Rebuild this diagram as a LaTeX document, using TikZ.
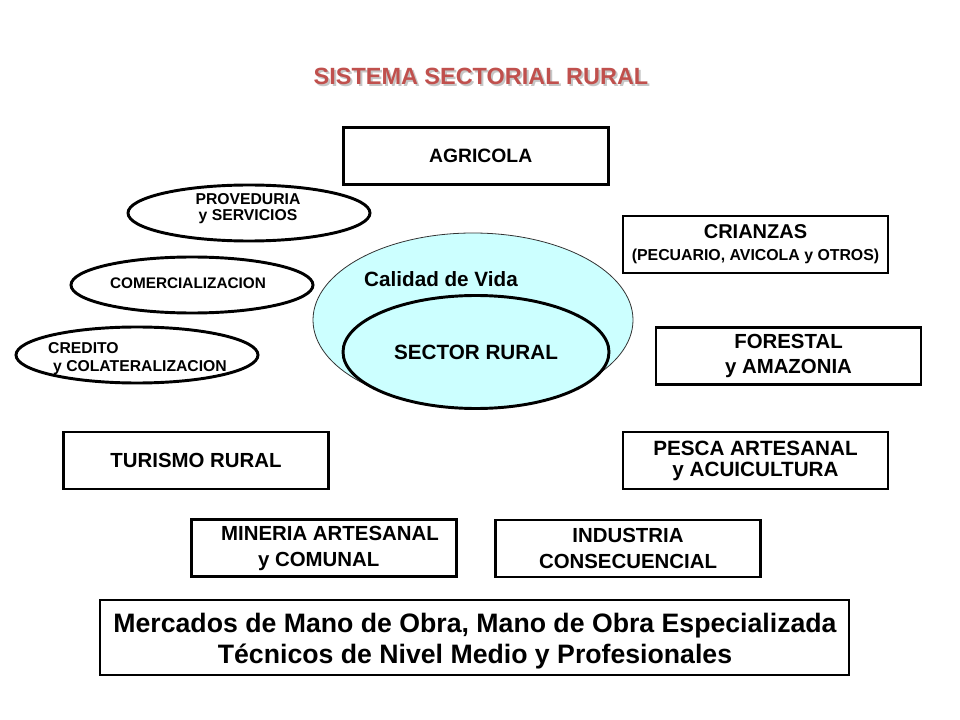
\documentclass[tikz,border=0pt]{standalone}
\usepackage{fontspec}
\setmainfont{Liberation Sans}
\usepackage{tikz}
\usetikzlibrary{shapes.geometric}

\definecolor{titlered}{RGB}{192,80,77}
\definecolor{lifecyan}{RGB}{204,255,255}

\begin{document}
\begin{tikzpicture}[x=0.75pt,y=-0.75pt,
	box/.style={draw, line width=2.2pt, minimum width=265*0.75pt, minimum height=57*0.75pt, inner sep=0pt, align=center, font=\bfseries\fontsize{15}{19}\selectfont},
	oval/.style={draw, ellipse, line width=2.2pt, minimum width=242*0.75pt, minimum height=56*0.75pt, inner sep=0pt},
	ovaltext/.style={inner sep=0pt, font=\bfseries\fontsize{11.8}{12}\selectfont}]
	
	\useasboundingbox (0,0) rectangle (960,720);
	
	% titulo con sombra
	\node[text=gray!45, font=\bfseries\fontsize{17.6}{20}\selectfont] (sombra) at (483,78) {SISTEMA SECTORIAL RURAL};
	\node[text=titlered, font=\bfseries\fontsize{17.6}{20}\selectfont] (titulo) at (481,76) {SISTEMA SECTORIAL RURAL};
	
	% centro
	\node[ellipse, draw=black!80, line width=0.6pt, fill=lifecyan, minimum width=320*0.75pt, minimum height=174*0.75pt, inner sep=0pt] (vida) at (473,320) {};
	\node[font=\bfseries\fontsize{15.5}{18}\selectfont] (vidatxt) at (441,279) {Calidad de Vida};
	\node[ellipse, draw, line width=2.2pt, fill=lifecyan, minimum width=266*0.75pt, minimum height=113*0.75pt, inner sep=0pt, font=\bfseries\fontsize{15.5}{18}\selectfont] (sector) at (476,352) {SECTOR RURAL};
	
	% sectores
	\node[box, font=\bfseries\fontsize{14.5}{18}\selectfont] (agri) at (476,156) {\hspace*{7pt}AGRICOLA};
	\node[box, font=\bfseries\fontsize{15}{16.5}\selectfont] (crianza) at (755.5,244.5) {CRIANZAS\\{\fontsize{11.9}{14}\selectfont (PECUARIO, AVICOLA y OTROS)}};
	\node[box, font=\bfseries\fontsize{15.3}{18.8}\selectfont] (forestal) at (788.5,356) {FORESTAL\\y AMAZONIA};
	\node[box, font=\bfseries\fontsize{15.5}{15.8}\selectfont] (pesca) at (755.5,460.5) {PESCA ARTESANAL\\y ACUICULTURA};
	\node[box, font=\bfseries\fontsize{15.3}{18}\selectfont] (turismo) at (196,460.5) {TURISMO RURAL};
	\node[box, font=\bfseries\fontsize{15.3}{19.5}\selectfont] (mineria) at (324,548) {\hspace*{9pt}MINERIA ARTESANAL\\y COMUNAL\hspace*{8pt}};
	\node[box, font=\bfseries\fontsize{15.3}{20}\selectfont] (industria) at (628,548.5) {INDUSTRIA\\CONSECUENCIAL};
	
	% servicios
	\node[oval] (prov) at (249,213) {};
	\node[ovaltext, align=center] (provtxt) at (248,209) {PROVEDURIA\\y SERVICIOS};
	\node[oval] (comer) at (192,285) {};
	\node[ovaltext, font=\bfseries\fontsize{11.5}{12}\selectfont] (comertxt) at (188,283) {COMERCIALIZACION};
	\node[oval] (cred) at (137,355) {};
	\node[ovaltext, align=left, font=\bfseries\fontsize{11.8}{13.5}\selectfont] (credtxt) at (137.5,359) {CREDITO\\\hspace*{3.75pt}y COLATERALIZACION};
	
	% mercados
	\node[draw, line width=0.8pt, minimum width=749*0.75pt, minimum height=75*0.75pt, inner sep=0pt] (mercado) at (474.5,637.5) {};
	\node[align=center, inner sep=0pt, font=\bfseries\fontsize{20}{23.25}\selectfont] (mercadotxt) at (475,641)
	{Mercados de Mano de Obra, Mano de Obra Especializada\\Técnicos de Nivel Medio y Profesionales};
	
\end{tikzpicture}
\end{document}
